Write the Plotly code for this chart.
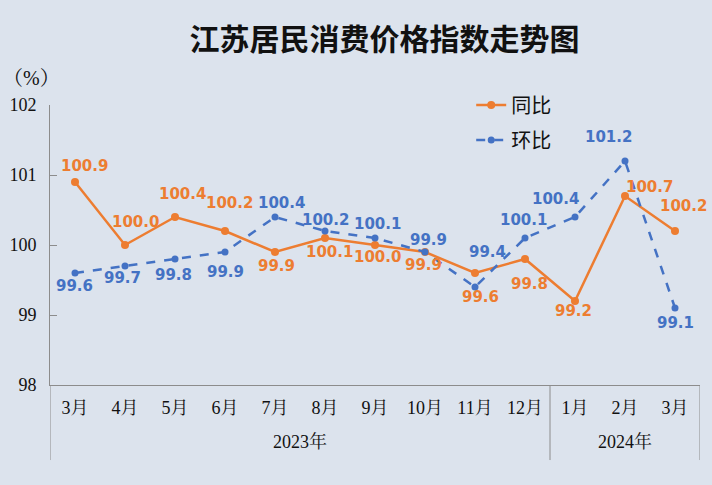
import plotly.graph_objects as go

months = ["3月", "4月", "5月", "6月", "7月", "8月", "9月", "10月", "11月", "12月", "1月", "2月", "3月"]
year_labels = ["2023年", "2024年"]
year_counts = [10, 3]
tongbi = [100.9, 100.0, 100.4, 100.2, 99.9, 100.1, 100.0, 99.9, 99.6, 99.8, 99.2, 100.7, 100.2]
huanbi = [99.6, 99.7, 99.8, 99.9, 100.4, 100.2, 100.1, 99.9, 99.4, 100.1, 100.4, 101.2, 99.1]
y_ticks = [98, 99, 100, 101, 102]

# label offsets in pixels (dx, dy with dy positive = downward), style only
tongbi_off = [(9, -16), (10, -23), (7, -23), (4, -28), (1, 14), (4, 14), (2, 12), (-2, 13),
              (5, 24), (4, 25), (-2, 10), (24, -9), (8, -25)]
huanbi_off = [(-1, 13), (-3, 12), (-2, 16), (0, 20), (6, -14), (0, -11), (2, -14), (3, -12),
              (12, -35), (-2, -18), (-20, -18), (-17, -24), (0, 15)]

ORANGE = "#ED7D31"
BLUE = "#4472C4"
BG = "#DCE3ED"
AX = "#8c8c8c"
lab_font = "DejaVu Sans"
serif = "Liberation Serif, Noto Serif CJK SC, Noto Sans CJK SC"

xs = list(range(len(months)))

fig = go.Figure()
fig.add_trace(go.Scatter(
    x=xs, y=tongbi, name="同比", legendgroup="a", mode="lines+markers",
    line=dict(color=ORANGE, width=2.5), marker=dict(color=ORANGE, size=8),
))
fig.add_trace(go.Scatter(
    x=xs, y=huanbi, name="环比", legendgroup="b", mode="lines+markers",
    line=dict(color=BLUE, width=2.5, dash="dash"), marker=dict(color=BLUE, size=7),
))

annotations = []
for vals, offs, col in ((tongbi, tongbi_off, ORANGE), (huanbi, huanbi_off, BLUE)):
    for i, (v, (dx, dy)) in enumerate(zip(vals, offs)):
        annotations.append(dict(text=f"{v:.1f}", x=i, y=v, xref="x", yref="y", showarrow=False,
                                xanchor="center", yanchor="middle", xshift=dx, yshift=-dy,
                                font=dict(family=lab_font, size=15, color=col, weight="bold")))

# group dividers and year labels
shapes = []
start = 0
bounds = [-0.5]
for lbl, n in zip(year_labels, year_counts):
    mid = start + (n - 1) / 2
    annotations.append(dict(text=lbl, x=mid, xref="x", y=-0.2, yref="paper", yanchor="middle",
                            showarrow=False, font=dict(family=serif, size=18, color="#111111")))
    start += n
    bounds.append(start - 0.5)
for b in bounds:
    shapes.append(dict(type="line", xref="x", yref="paper", x0=b, x1=b, y0=0, y1=-0.268,
                       line=dict(color=AX, width=1)))

annotations.append(dict(text="（%）", xref="paper", yref="paper", x=-0.075, y=1.095, xanchor="left",
                        yanchor="middle", showarrow=False,
                        font=dict(family=serif, size=20, color="#111111")))

fig.update_layout(
    width=712, height=485,
    paper_bgcolor=BG, plot_bgcolor=BG,
    margin=dict(l=50, r=12, t=105, b=100),
    title=dict(text="江苏居民消费价格指数走势图", x=0.54, xanchor="center", y=0.918, yanchor="middle",
               font=dict(family="Noto Sans CJK SC", size=30, color="#111111", weight="bold")),
    showlegend=True,
    legend=dict(x=0.648, y=1.07, xanchor="left", yanchor="top", bgcolor="rgba(0,0,0,0)",
                font=dict(family="Noto Sans CJK SC", size=20, color="#111111"),
                tracegroupgap=6, itemwidth=30),
    xaxis=dict(range=[-0.5, 12.5], tickvals=xs, ticktext=months, showline=True, linecolor=AX, linewidth=1,
               showgrid=False, zeroline=False, ticks="", ticklabelstandoff=6, automargin=False,
               tickfont=dict(family=serif, size=18, color="#111111")),
    yaxis=dict(range=[98, 102], tickvals=y_ticks, showline=True, linecolor=AX, linewidth=1,
               showgrid=False, zeroline=False, ticks="inside", ticklen=7, tickcolor=AX,
               ticklabelstandoff=9, automargin=False,
               tickfont=dict(family=serif, size=18, color="#111111")),
    shapes=shapes,
    annotations=annotations,
)

fig.write_html("out.html", config={"displayModeBar": False},
               post_script="document.body.style.margin='0';")
